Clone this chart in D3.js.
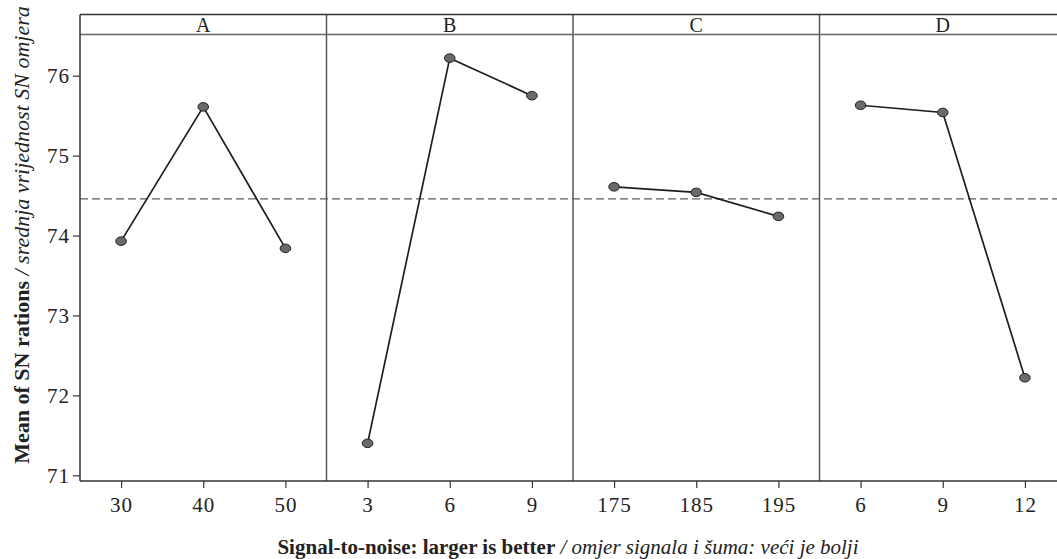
<!DOCTYPE html>
<html>
<head>
<meta charset="utf-8">
<script src="https://cdn.jsdelivr.net/npm/d3@7"></script>
<style>
  html, body { margin: 0; padding: 0; background: #fff; }
  svg { display: block; }
  svg text { font-family: "Liberation Serif", "Times New Roman", "DejaVu Serif", serif; }
</style>
</head>
<body>
<svg id="chart" width="1057" height="559"></svg>
<script>
// Main effects plot for SN ratios, one panel per factor
const factors = ["A", "B", "C", "D"];
const levelsA = ["30", "40", "50"];
const levelsB = ["3", "6", "9"];
const levelsC = ["175", "185", "195"];
const levelsD = ["6", "9", "12"];
const valuesA = [73.93, 75.61, 73.84];
const valuesB = [71.40, 76.22, 75.75];
const valuesC = [74.61, 74.54, 74.24];
const valuesD = [75.63, 75.54, 72.22];
const grandMean = 74.46;
const yTicks = [71, 72, 73, 74, 75, 76];

const panels = [
  { name: factors[0], levels: levelsA, values: valuesA },
  { name: factors[1], levels: levelsB, values: valuesB },
  { name: factors[2], levels: levelsC, values: valuesC },
  { name: factors[3], levels: levelsD, values: valuesD }
];

const serif = '"Liberation Serif", "Times New Roman", "DejaVu Serif", serif';
const svg = d3.select("#chart");

const plotLeft = 80, panelW = 246.5;
const plotTop = 14.5, stripBottom = 34.5, plotBottom = 481;
const plotRight = plotLeft + panelW * panels.length;

const y = d3.scaleLinear().domain([71, 76]).range([475.3, 75.7]);
const panelX = d3.scaleBand().domain(factors).range([plotLeft, plotRight]).padding(0);

const g = svg.append("g");

// grand mean reference line
g.append("line")
  .attr("x1", plotLeft).attr("x2", plotRight)
  .attr("y1", y(grandMean)).attr("y2", y(grandMean))
  .attr("stroke", "#5e5e5e").attr("stroke-width", 1.3)
  .attr("stroke-dasharray", "8,4");

panels.forEach(p => {
  const x0 = panelX(p.name);
  const x = d3.scalePoint().domain(p.levels).range([x0, x0 + panelW]).padding(0.5);

  // strip label
  g.append("text")
    .attr("x", x0 + panelW / 2).attr("y", 31.5)
    .attr("text-anchor", "middle")
    .style("font-family", serif)
    .style("font-size", "20px").attr("fill", "#222")
    .text(p.name);

  // x axis for this panel
  const ax = g.append("g")
    .attr("transform", `translate(0,${plotBottom})`)
    .call(d3.axisBottom(x).tickSize(7).tickSizeOuter(0).tickPadding(9));
  ax.select(".domain").remove();
  ax.selectAll(".tick line").attr("stroke", "#333").attr("stroke-width", 1.2);
  ax.selectAll(".tick text")
    .style("font-family", serif)
    .style("font-size", "21px").attr("fill", "#222")
    .style("letter-spacing", "1px");

  // connecting line
  const line = d3.line()
    .x((d, i) => x(p.levels[i]))
    .y(d => y(d));
  g.append("path")
    .datum(p.values)
    .attr("d", line)
    .attr("fill", "none")
    .attr("stroke", "#1e1e1e").attr("stroke-width", 1.7);

  // level means
  g.selectAll(null)
    .data(p.values)
    .enter().append("ellipse")
    .attr("cx", (d, i) => x(p.levels[i]))
    .attr("cy", d => y(d))
    .attr("rx", 5.3).attr("ry", 4.3)
    .attr("fill", "#6a6a6a")
    .attr("stroke", "#222").attr("stroke-width", 1);
});

// panel dividers
factors.slice(1).forEach(f => {
  g.append("line")
    .attr("x1", panelX(f)).attr("x2", panelX(f))
    .attr("y1", plotTop).attr("y2", plotBottom)
    .attr("stroke", "#555").attr("stroke-width", 1.5);
});

// frame: top border, strip separator, left and bottom edges
g.append("line").attr("x1", plotLeft).attr("x2", plotRight).attr("y1", plotTop).attr("y2", plotTop)
  .attr("stroke", "#333").attr("stroke-width", 1.5);
g.append("line").attr("x1", plotLeft).attr("x2", plotRight).attr("y1", stripBottom).attr("y2", stripBottom)
  .attr("stroke", "#666").attr("stroke-width", 1.5);
g.append("line").attr("x1", plotLeft).attr("x2", plotRight).attr("y1", plotBottom).attr("y2", plotBottom)
  .attr("stroke", "#333").attr("stroke-width", 1.5);
g.append("line").attr("x1", plotLeft).attr("x2", plotLeft).attr("y1", plotTop).attr("y2", plotBottom)
  .attr("stroke", "#333").attr("stroke-width", 1.5);

// y axis
const ay = g.append("g")
  .attr("transform", `translate(${plotLeft},0)`)
  .call(d3.axisLeft(y).tickValues(yTicks).tickFormat(d3.format("d")).tickSize(7).tickPadding(3));
ay.select(".domain").remove();
ay.selectAll(".tick line").attr("stroke", "#333").attr("stroke-width", 1.2);
ay.selectAll(".tick text")
  .style("font-family", serif)
  .style("font-size", "21px").attr("fill", "#222")
  .style("letter-spacing", "1px");

// axis titles
const yTitle = svg.append("text")
  .attr("transform", "translate(29,235) rotate(-90)")
  .attr("text-anchor", "middle")
  .style("font-family", serif)
  .style("font-size", "22px").attr("fill", "#222");
yTitle.append("tspan").style("font-weight", "bold").text("Mean of SN rations");
yTitle.append("tspan").style("font-style", "italic").text(" / srednja vrijednost SN omjera");

const xTitle = svg.append("text")
  .attr("x", (plotLeft + plotRight) / 2 - 5).attr("y", 554)
  .attr("text-anchor", "middle")
  .style("font-family", serif)
  .style("font-size", "21px").attr("fill", "#222");
xTitle.append("tspan").style("font-weight", "bold").text("Signal-to-noise: larger is better");
xTitle.append("tspan").style("font-style", "italic").text(" / omjer signala i šuma: veći je bolji");
</script>
</body>
</html>
